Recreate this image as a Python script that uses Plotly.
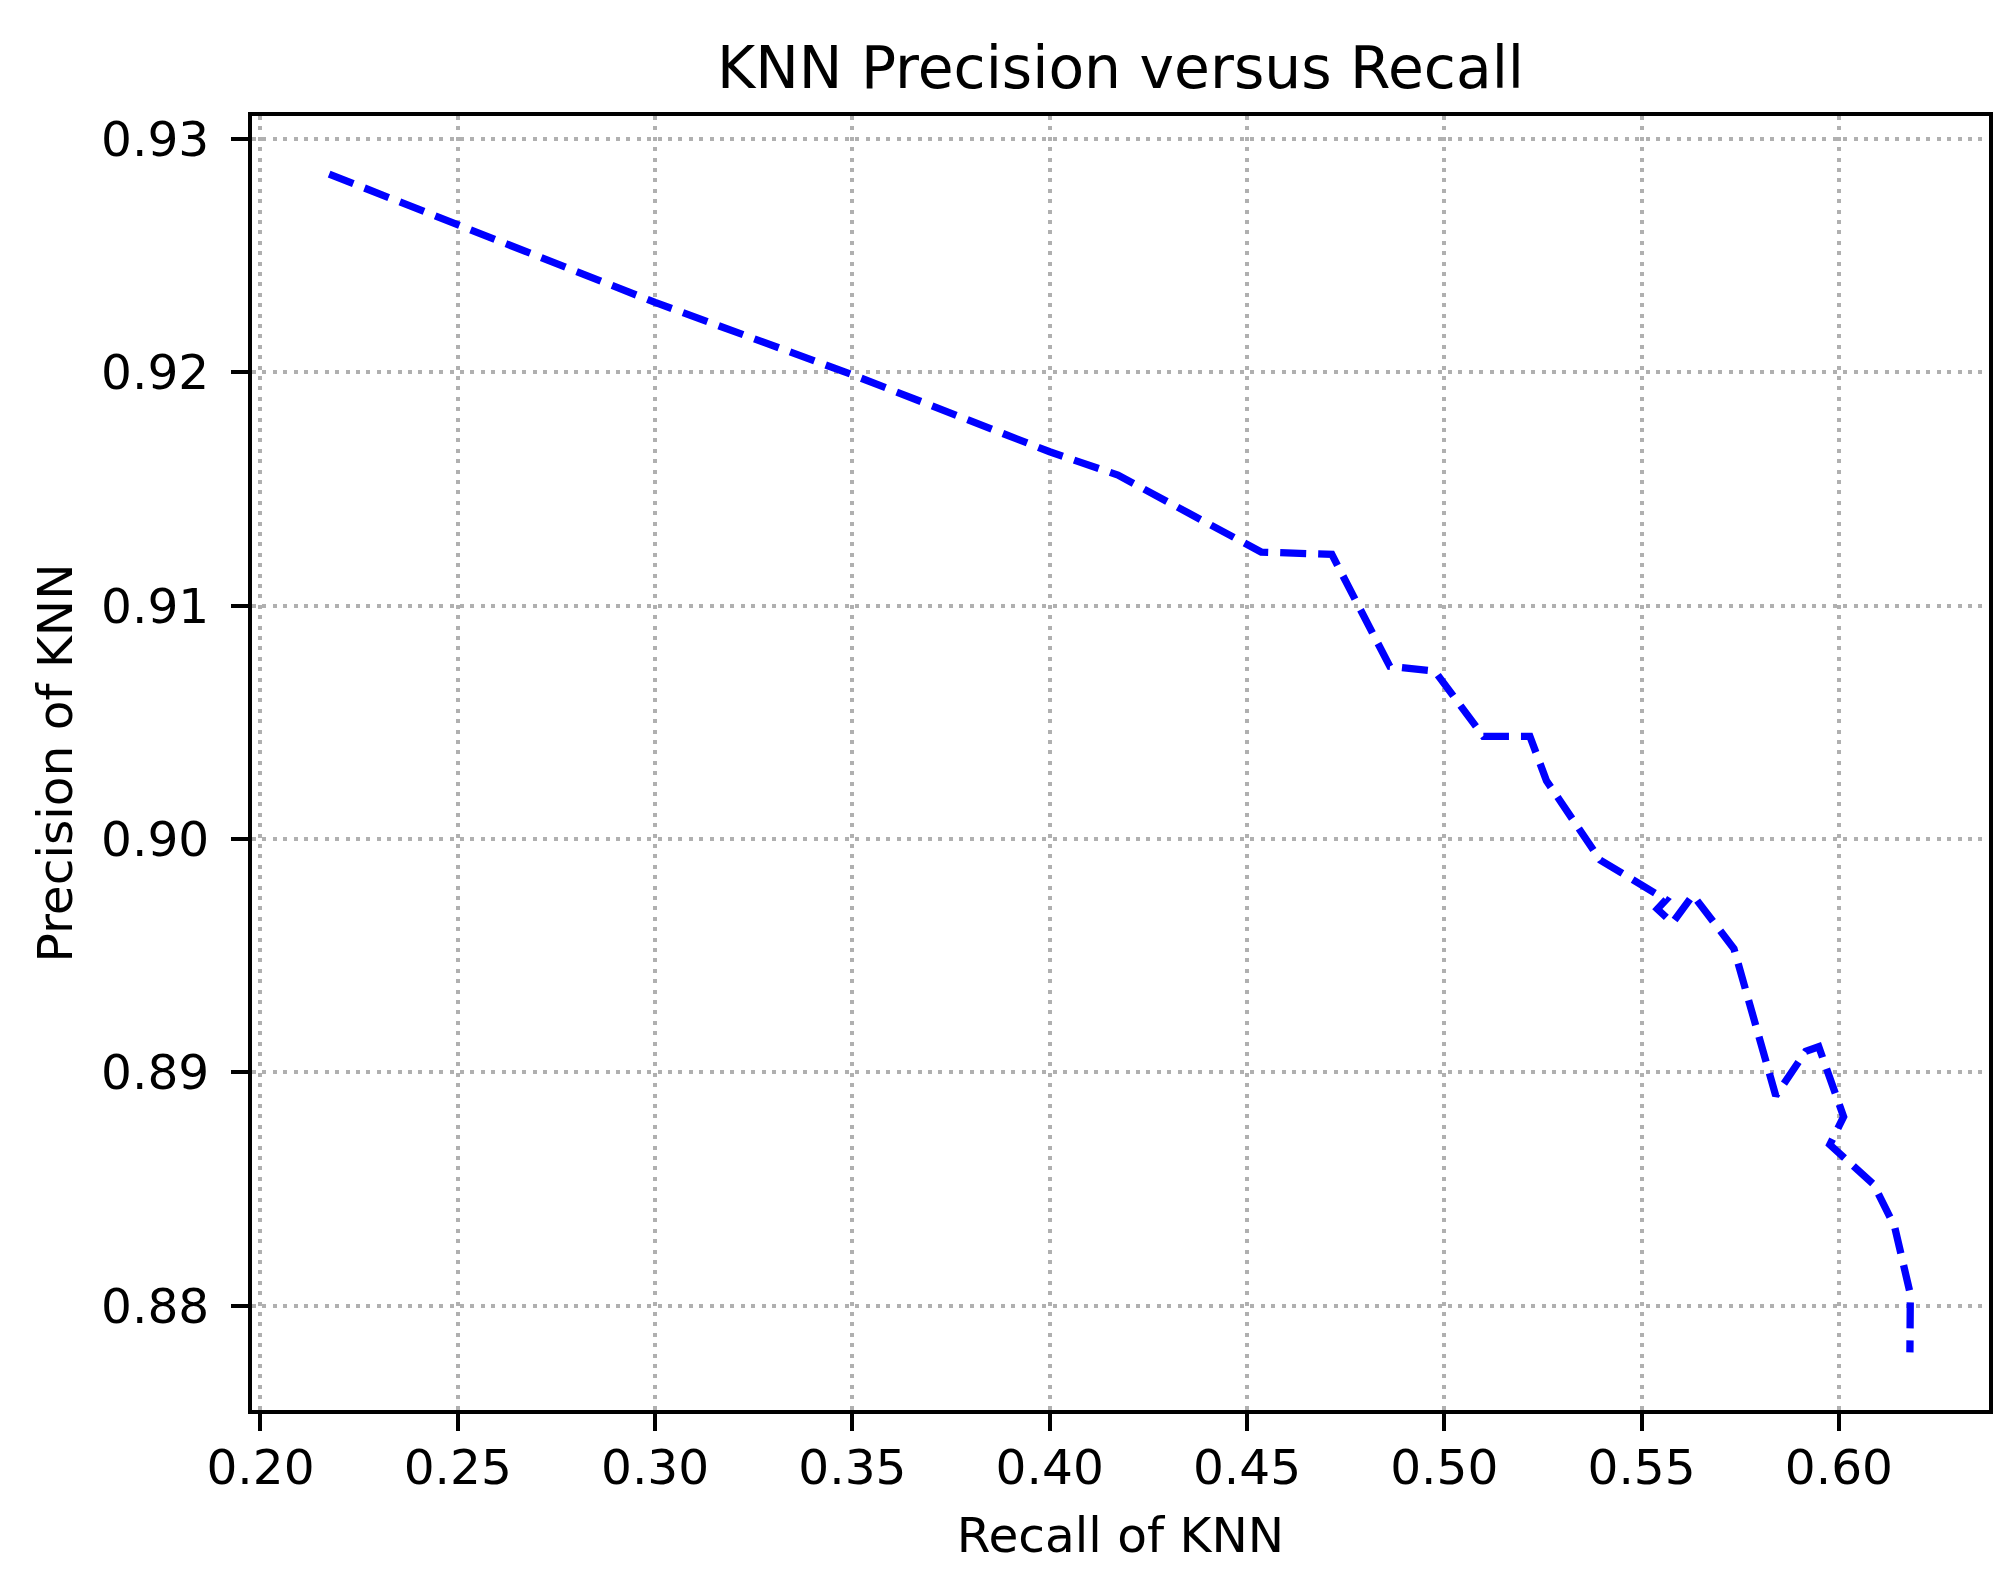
# ==========================================
# KNN — Precision vs Recall (dashed line)
# ==========================================

import plotly.graph_objects as go

# ------------------------------------------
# Data
# ------------------------------------------
recall = [
    0.2174, 0.3000, 0.3500, 0.4000, 0.4173, 0.4536, 0.4715,
    0.4862, 0.4976, 0.5099, 0.5217, 0.5259, 0.5395, 0.5562,
    0.5540, 0.5578, 0.5630, 0.5734, 0.5840, 0.5916, 0.5949,
    0.6012, 0.5977, 0.6088, 0.6141, 0.6181, 0.6180,
]
precision = [
    0.9285, 0.9230, 0.9199, 0.9166, 0.9156, 0.9123, 0.9122,
    0.9074, 0.9072, 0.9044, 0.9044, 0.9025, 0.8991, 0.8974,
    0.8970, 0.8964, 0.8976, 0.8953, 0.8890, 0.8909, 0.8911,
    0.8881, 0.8869, 0.8852, 0.8834, 0.8805, 0.8780,
]

x_ticks = [0.20, 0.25, 0.30, 0.35, 0.40, 0.45, 0.50, 0.55, 0.60]
y_ticks = [0.88, 0.89, 0.90, 0.91, 0.92, 0.93]

FONT = "DejaVu Sans"

fig = go.Figure()
fig.add_trace(go.Scatter(
    x=recall,
    y=precision,
    mode="lines",
    line=dict(color="#0000ff", width=7.3, dash="26px,12px"),
    showlegend=False,
))

# estilo de ejes tipo matplotlib: caja negra, ticks hacia fuera, grid punteado
axis_style = dict(
    showline=True,
    linecolor="black",
    linewidth=4,
    mirror=True,
    ticks="outside",
    ticklen=17,
    tickwidth=4,
    tickcolor="black",
    showgrid=True,
    gridcolor="#b0b0b0",
    gridwidth=3.9,
    griddash="4px,6.4px",
    zeroline=False,
    tickformat=".2f",
    tickfont=dict(family=FONT, size=48.6, color="black"),
)

fig.update_xaxes(
    axis_style,
    range=[0.19785, 0.63804],
    tickvals=x_ticks,
    ticklabelstandoff=-5,
    title=dict(text="Recall of KNN", font=dict(family=FONT, size=48.6, color="black"), standoff=25),
)
fig.update_yaxes(
    axis_style,
    range=[0.87553, 0.93099],
    tickvals=y_ticks,
    ticklabelstandoff=12,
    title=dict(text="Precision of KNN", font=dict(family=FONT, size=48.6, color="black"), standoff=14),
)

fig.update_layout(
    width=2014,
    height=1585,
    margin=dict(l=244, r=33, t=108, b=183),
    paper_bgcolor="white",
    plot_bgcolor="white",
    font=dict(family=FONT, color="black"),
    title=dict(
        text="KNN Precision versus Recall",
        font=dict(family=FONT, size=58.3, color="black"),
        x=0.5,
        xref="paper",
        xanchor="center",
        y=1 - 60 / 1585,
        yref="container",
        yanchor="middle",
    ),
)

fig.write_html("out.html")
